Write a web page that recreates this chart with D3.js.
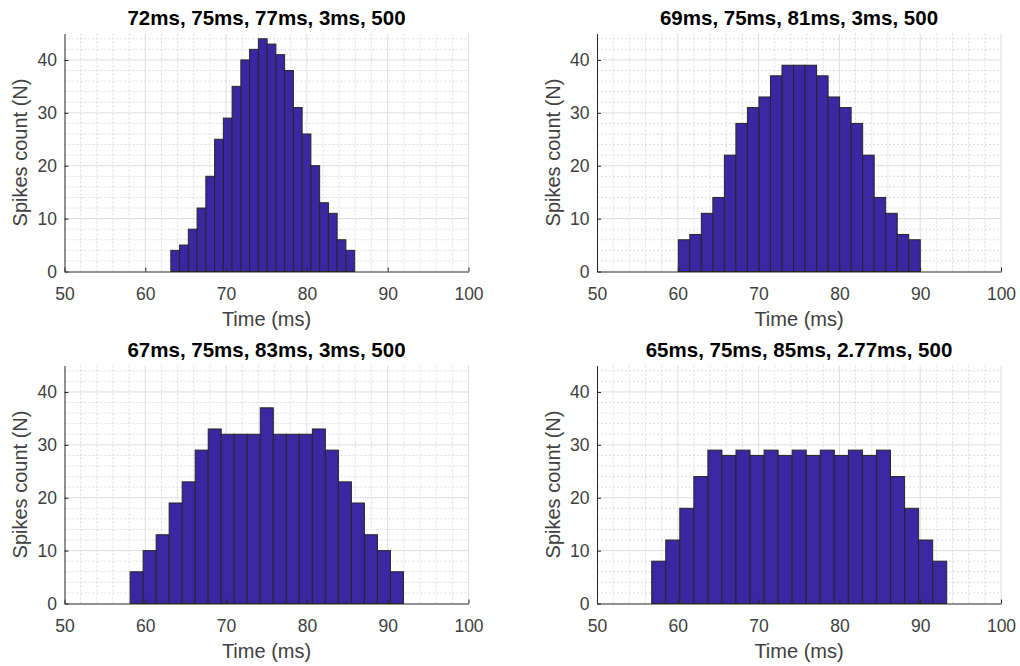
<!DOCTYPE html>
<html><head><meta charset="utf-8">
<script src="https://cdn.jsdelivr.net/npm/d3@7"></script>
<style>
html,body{margin:0;padding:0;background:#fff;}
svg{display:block;font-family:"Liberation Sans",Arial,Helvetica,sans-serif;}
</style></head>
<body>
<svg id="chart" width="1020" height="666"></svg>
<script>
// ---- data ----
const titles = [
  "72ms, 75ms, 77ms, 3ms, 500",
  "69ms, 75ms, 81ms, 3ms, 500",
  "67ms, 75ms, 83ms, 3ms, 500",
  "65ms, 75ms, 85ms, 2.77ms, 500"
];
const counts1 = [4,5,8,12,18,25,29,35,40,42,44,43,41,38,31,26,20,13,11,6,4];
const counts2 = [6,7,11,14,22,28,31,33,37,39,39,39,37,33,31,28,22,14,11,7,6];
const counts3 = [6,10,13,19,23,29,33,32,32,32,37,32,32,32,33,29,23,19,13,10,6];
const counts4 = [8,12,18,24,29,28,29,28,29,28,29,28,29,28,29,28,29,24,18,12,8];
const binRanges = [[63.16,85.91],[60.06,90.01],[58.12,91.95],[56.77,93.28]];
const xTicks = [50,60,70,80,90,100];
const yTicks = [0,10,20,30,40];
const xDomain = [50,100];
const yDomain = [0,45];
const xLabel = "Time (ms)";
const yLabel = "Spikes count (N)";

const allCounts = [counts1, counts2, counts3, counts4];

// ---- layout ----
const lefts = [64.5, 597];
const tops = [33.5, 365.5];
const W = 404, H = 238;

const svg = d3.select("#chart");
svg.append("rect").attr("width",1020).attr("height",666).attr("fill","#fff");

allCounts.forEach((counts, i) => {
  const col = i % 2, row = Math.floor(i / 2);
  const g = svg.append("g").attr("transform", `translate(${lefts[col]},${tops[row]})`);
  const x = d3.scaleLinear().domain(xDomain).range([0, W]);
  const y = d3.scaleLinear().domain(yDomain).range([H, 0]);

  // minor grid
  const minorX = d3.range(xDomain[0]+2, xDomain[1], 2).filter(v => v % 10 !== 0);
  const minorY = d3.range(yDomain[0]+2, yDomain[1], 2).filter(v => v % 10 !== 0);
  g.append("g").selectAll("line").data(minorX).join("line")
    .attr("x1", d => x(d)).attr("x2", d => x(d)).attr("y1", 0).attr("y2", H)
    .attr("stroke", "#dcdcdc").attr("stroke-width", 1).attr("stroke-dasharray", "2,2");
  g.append("g").selectAll("line").data(minorY).join("line")
    .attr("y1", d => y(d)).attr("y2", d => y(d)).attr("x1", 0).attr("x2", W)
    .attr("stroke", "#dcdcdc").attr("stroke-width", 1).attr("stroke-dasharray", "2,2");
  // major grid
  g.append("g").selectAll("line").data(xTicks.slice(1)).join("line")
    .attr("x1", d => x(d)).attr("x2", d => x(d)).attr("y1", 0).attr("y2", H)
    .attr("stroke", "#dedede").attr("stroke-width", 1);
  g.append("g").selectAll("line").data(yTicks.slice(1)).join("line")
    .attr("y1", d => y(d)).attr("y2", d => y(d)).attr("x1", 0).attr("x2", W)
    .attr("stroke", "#dedede").attr("stroke-width", 1);

  // bars
  const [lo, hi] = binRanges[i];
  const n = counts.length;
  const edges = d3.range(n + 1).map(k => lo + (hi - lo) * k / n);
  g.append("g").selectAll("rect").data(counts).join("rect")
    .attr("x", (d, k) => x(edges[k]))
    .attr("width", (d, k) => x(edges[k+1]) - x(edges[k]))
    .attr("y", d => y(d))
    .attr("height", d => y(0) - y(d))
    .attr("fill", "#3b27a2")
    .attr("stroke", "#262626")
    .attr("stroke-width", 1);

  // axes
  const xAxis = d3.axisBottom(x).tickValues(xTicks).tickSize(-4).tickSizeOuter(0).tickPadding(16);
  const yAxis = d3.axisLeft(y).tickValues(yTicks).tickSize(-4).tickSizeOuter(0).tickPadding(7.5);
  const gx = g.append("g").attr("transform", `translate(0,${H})`).call(xAxis);
  const gy = g.append("g").call(yAxis);
  [gx, gy].forEach(a => {
    a.selectAll("path,line").attr("stroke", "#262626").attr("stroke-width", 1);
    a.selectAll("text").attr("fill", "#404040").attr("font-size", "17.5px")
      .attr("font-family", '"Liberation Sans",Arial,sans-serif');
  });
  gx.selectAll("text").attr("dy", "0.71em");

  // labels
  g.append("text").attr("x", W/2).attr("y", H + 54).attr("text-anchor", "middle")
    .attr("fill", "#404040").attr("font-size", "20px").text(xLabel);
  g.append("text").attr("transform", `translate(${-37.5},${H/2}) rotate(-90)`)
    .attr("text-anchor", "middle").attr("fill", "#404040").attr("font-size", "20px").text(yLabel);
  // title
  g.append("text").attr("x", W/2).attr("y", -8.5).attr("text-anchor", "middle")
    .attr("fill", "#000").attr("font-size", "20.5px").attr("font-weight", "bold").text(titles[i]);
});
</script>
</body></html>
